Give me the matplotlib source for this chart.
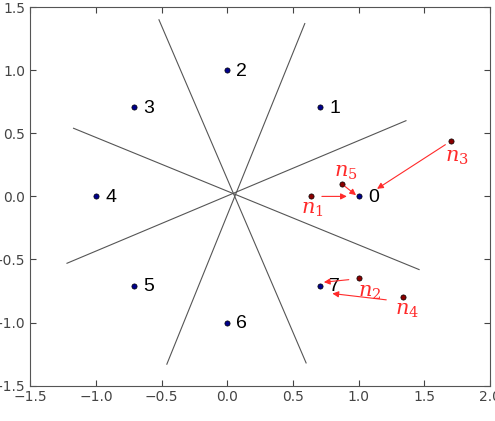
import matplotlib.pyplot as plt

# constellation points and their labels
point_x = [1.0, 0.707, 0.0, -0.707, -1.0, -0.707, 0.0, 0.707]
point_y = [0.0, 0.707, 1.0, 0.707, 0.0, -0.707, -1.0, -0.707]
point_labels = ["0", "1", "2", "3", "4", "5", "6", "7"]

# boundary segments (start x, start y, end x, end y)
seg_x0 = [-1.17, -1.22, -0.52, 0.59]
seg_y0 = [0.54, -0.53, 1.40, 1.37]
seg_x1 = [1.46, 1.36, 0.60, -0.46]
seg_y1 = [-0.58, 0.60, -1.32, -1.33]

# noisy samples
noise_x = [0.64, 1.0, 1.70, 1.34, 0.87]
noise_y = [0.0, -0.65, 0.44, -0.80, 0.10]
noise_labels = ["$n_1$", "$n_2$", "$n_3$", "$n_4$", "$n_5$"]
noise_label_x = [0.645, 1.08, 1.745, 1.37, 0.905]
noise_label_y = [-0.10, -0.76, 0.31, -0.90, 0.19]

# arrows (tail -> head)
arrow_x0 = [0.72, 0.925, 1.66, 1.21, 0.895]
arrow_y0 = [0.0, -0.66, 0.41, -0.82, 0.08]
arrow_x1 = [0.91, 0.735, 1.14, 0.80, 0.98]
arrow_y1 = [0.0, -0.68, 0.06, -0.77, 0.01]

fig = plt.figure(figsize=(4.95, 4.21), dpi=100)
ax = fig.add_axes([0.061, 0.084, 0.929, 0.899])

for x0, y0, x1, y1 in zip(seg_x0, seg_y0, seg_x1, seg_y1):
    ax.plot([x0, x1], [y0, y1], color="#555555", lw=0.8, zorder=1)

ax.scatter(point_x, point_y, s=14, color="#00008B", edgecolor="black",
           linewidth=0.5, zorder=3)
for x, y, lab in zip(point_x, point_y, point_labels):
    ax.text(x + 0.07, y - 0.01, lab, fontsize=14, ha="left", va="center",
            family="Liberation Sans")

ax.scatter(noise_x, noise_y, s=14, color="#8B0000", edgecolor="black",
           linewidth=0.5, zorder=3)
for x, y, lab in zip(noise_label_x, noise_label_y, noise_labels):
    ax.text(x, y, lab, fontsize=15, color="#FF2A2A", ha="center", va="center",
            math_fontfamily="dejavuserif")

for x0, y0, x1, y1 in zip(arrow_x0, arrow_y0, arrow_x1, arrow_y1):
    ax.annotate("", xy=(x1, y1), xytext=(x0, y0),
                arrowprops=dict(arrowstyle="-|>", color="#FF2A2A", lw=0.8,
                                mutation_scale=9, shrinkA=0, shrinkB=0))

ax.set_xlim(-1.5, 2.0)
ax.set_ylim(-1.5, 1.5)
ax.set_xticks([-1.5, -1.0, -0.5, 0.0, 0.5, 1.0, 1.5, 2.0])
ax.set_yticks([-1.5, -1.0, -0.5, 0.0, 0.5, 1.0, 1.5])
ax.tick_params(direction="in", top=True, right=True, labelsize=10,
               colors="#444444", length=4)
for sp in ax.spines.values():
    sp.set_color("#555555")

fig.savefig("out.png", dpi=100)
